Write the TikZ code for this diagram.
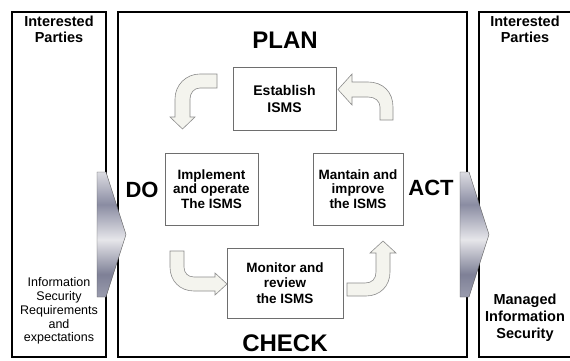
\documentclass[tikz,border=0pt]{standalone}
\usepackage{fontspec}
\setmainfont{Liberation Sans}
\usepackage{tikz}

\definecolor{arrowfill}{HTML}{F4F4EE}
\definecolor{arrowline}{HTML}{8C8C8C}
\definecolor{boxline}{HTML}{6E6E6E}
\definecolor{steelTop}{HTML}{DCDCE2}
\definecolor{steelMid}{HTML}{8A8CA2}
\definecolor{steelLight}{HTML}{E6E6EA}
\definecolor{steelDark}{HTML}{7E8096}
\definecolor{steelBot}{HTML}{9A9CAE}
\pgfdeclareverticalshading{steel}{100bp}{color(0bp)=(steelBot); color(25bp)=(steelBot); color(34bp)=(steelDark); color(48bp)=(steelLight); color(62bp)=(steelMid); color(75bp)=(steelTop); color(100bp)=(steelTop)}

\begin{document}
\begin{tikzpicture}[x=1pt,y=-1pt,
  frame/.style={draw=black,line width=1.6pt},
  stepbox/.style={draw=boxline,fill=white,line width=0.8pt,align=center,inner sep=0pt,
    font=\fontsize{13.5}{14.5}\selectfont\bfseries},
  phase/.style={font=\fontsize{24}{24}\selectfont\bfseries},
  party/.style={align=center,font=\fontsize{14.5}{16.5}\selectfont\bfseries},
  bent/.style={fill=arrowfill,draw=arrowline,line width=0.6pt},
  chevron/.style={shading=steel,draw=gray!70!black,line width=0.4pt}]
\useasboundingbox (0,0) rectangle (570,361);
\fill[white] (0,0) rectangle (570,361);

% outer frames
\draw[frame] (12,12) rectangle (106,357);
\draw[frame] (118,12) rectangle (467,357);
\draw[frame] (574,12) -- (479,12) -- (479,357) -- (574,357);

% input and output chevrons
\foreach \x in {97,460}
  \shade[chevron] (\x,172) -- ++(9,0) -- ++(20,62.5) -- ++(-20,62.5) -- ++(-9,0) -- cycle;

% the four steps
\node[stepbox,minimum width=103,minimum height=63,font=\fontsize{14}{17}\selectfont\bfseries]
  (establish) at (284.5,98.5) {Establish\\ISMS};
\node[stepbox,minimum width=93,minimum height=72] (implement) at (211.5,189) {Implement\\and operate\\The ISMS};
\node[stepbox,minimum width=90,minimum height=72] (improve) at (358,189) {Mantain and\\improve\\the ISMS};
\node[stepbox,minimum width=116,minimum height=70,font=\fontsize{13.5}{15.5}\selectfont\bfseries]
  (monitor) at (285,283) {Monitor and\\review\\the ISMS};

% phase names
\node[phase] (plan) at (285,40.5) {PLAN};
\node[phase] (check) at (285,343) {CHECK};
\node[phase,font=\fontsize{22}{22}\selectfont\bfseries] (do) at (142,190) {DO};
\node[phase,font=\fontsize{22}{22}\selectfont\bfseries] (act) at (431,188) {ACT};

% interested parties
\node[party] (partiesIn) at (59,29.5) {Interested\\Parties};
\node[party] (partiesOut) at (525,29.5) {Interested\\Parties};
\node[align=center,font=\fontsize{12.5}{13.8}\selectfont] (requirements) at (59,311)
  {Information\\Security\\Requirements\\and\\expectations};
\node[party,font=\fontsize{14.5}{17}\selectfont\bfseries] (managed) at (525,318)
  {Managed\\Information\\Security};

% bent arrows round the cycle
\draw[bent] (217,74) -- (200,74) .. controls (186,74) and (175,85) .. (175,99) -- (175,117)
  -- (170,117) -- (182.5,129) -- (195,117) -- (190,117) -- (190,99)
  .. controls (190,93) and (194,88) .. (200,88) -- (217,88) -- cycle;
\draw[bent] (352,82) -- (368,82) .. controls (383,82) and (393,92) .. (393,107) -- (393,120)
  -- (380,120) -- (380,107) .. controls (380,101) and (375,97) .. (368,97) -- (352,97)
  -- (352,105) -- (338,89.5) -- (352,74) -- cycle;
\draw[bent] (170,251) -- (184,251) -- (184,267) .. controls (184,273) and (188,277) .. (194,277)
  -- (215,277) -- (215,273) -- (227,284) -- (215,295) -- (215,291) -- (194,291)
  .. controls (180,291) and (170,281) .. (170,267) -- cycle;
\draw[bent] (347,283) -- (365,283) .. controls (372,283) and (376,279) .. (376,272) -- (376,253)
  -- (370,253) -- (383,241) -- (396,253) -- (390,253) -- (390,272)
  .. controls (390,286) and (380,296) .. (366,296) -- (347,296) -- cycle;
\end{tikzpicture}
\end{document}
